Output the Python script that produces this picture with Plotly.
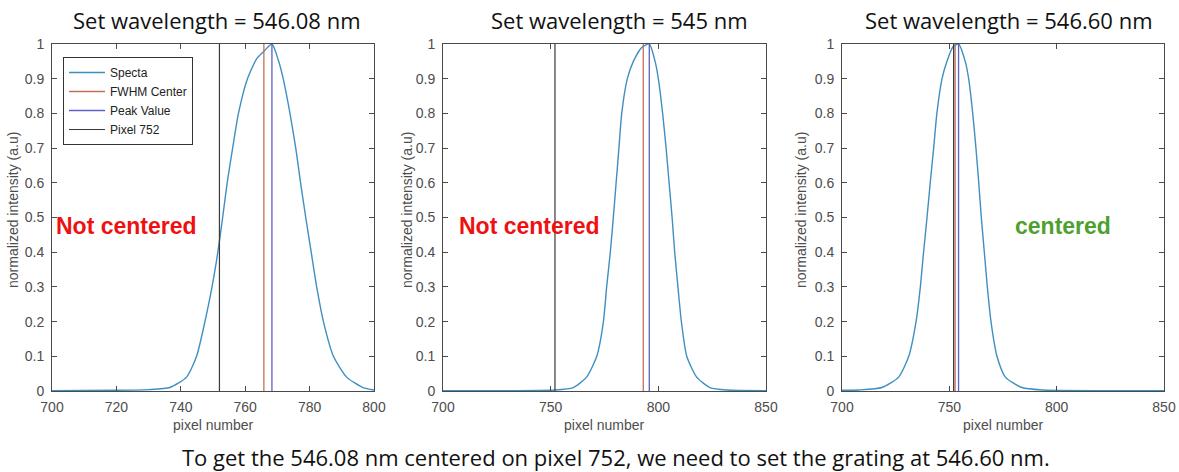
import plotly.graph_objects as go

# ---------------- data ----------------
titles = ["Set wavelength = 546.08 nm", "Set wavelength = 545 nm", "Set wavelength = 546.60 nm"]
status_texts = ["Not centered", "Not centered", "centered"]
caption = "To get the 546.08 nm centered on pixel 752, we need to set the grating at 546.60 nm."

# Panel 1 (set 546.08 nm)
p1_pixel = [700, 720, 730, 736.6, 741.8, 744.9, 747.5, 749.7, 751.5, 753, 754.4, 756.1, 757.9,
            760.7, 763.6, 765.6, 768.3, 770.3, 771.8, 773.9, 775.7, 777.2, 778.8, 780.5, 782.2,
            784.3, 787.4, 791.5, 796.6, 800]
p1_int = [0.001, 0.002, 0.004, 0.01, 0.04, 0.1, 0.2, 0.3, 0.4, 0.5, 0.6, 0.7, 0.8,
          0.9, 0.958, 0.977, 1.0, 0.953, 0.9, 0.8, 0.7, 0.6, 0.5, 0.4, 0.3,
          0.2, 0.1, 0.04, 0.01, 0.003]

# Panel 2 (set 545 nm)
p2_pixel = [700, 752, 760.5, 766.7, 771.4, 774.5, 776.0, 777.7, 779.1, 780.4, 781.7, 783.0,
            785.6, 788.4, 792.3, 795.8, 798.5, 800.0, 802.0, 803.6, 805.0, 806.4, 807.6,
            809.1, 810.7, 813.2, 817.8, 824.0, 831.8, 850]
p2_int = [0.001, 0.003, 0.01, 0.04, 0.1, 0.2, 0.3, 0.4, 0.5, 0.6, 0.7, 0.8,
          0.9, 0.95, 0.99, 1.0, 0.95, 0.9, 0.8, 0.7, 0.6, 0.5, 0.4,
          0.3, 0.2, 0.1, 0.04, 0.01, 0.003, 0.001]

# Panel 3 (set 546.60 nm)
p3_pixel = [700, 707.8, 718.6, 726.4, 731.1, 734.5, 736.5, 738.0, 739.6, 741.1, 742.7, 744.2,
            746.6, 748.9, 751.7, 754.3, 757.4, 759.0, 760.9, 762.4, 763.7, 764.9, 766.3,
            767.7, 769.4, 772.2, 776.1, 783.8, 793.2, 850]
p3_int = [0.002, 0.003, 0.01, 0.04, 0.1, 0.2, 0.3, 0.4, 0.5, 0.6, 0.7, 0.8,
          0.9, 0.95, 0.992, 1.0, 0.95, 0.9, 0.8, 0.7, 0.6, 0.5, 0.4,
          0.3, 0.2, 0.1, 0.04, 0.01, 0.003, 0.001]

fwhm_center = [765.8, 793.0, 752.7]
peak_value = [768.3, 795.8, 754.3]
target_pixel = [752, 752, 752]

x_ranges = [[700, 800], [700, 850], [700, 850]]
x_ticks = [[700, 720, 740, 760, 780, 800], [700, 750, 800, 850], [700, 750, 800, 850]]
y_ticks = [0, 0.1, 0.2, 0.3, 0.4, 0.5, 0.6, 0.7, 0.8, 0.9, 1]

series_names = ["Specta", "FWHM Center", "Peak Value", "Pixel 752"]

# ---------------- styling / layout ----------------
W, H = 1179, 472


def px(x):                   # window pixel -> paper x
    return x / W


def py(y):                   # window pixel -> paper y
    return 1 - y / H


c_spec = "#3f8fc2"
c_fwhm = "#c2705c"
c_peak = "#5f5fc4"
c_pix = "#3a3a3a"
axis_col = "#4a4a4a"
tick_font = dict(family="Liberation Sans, Arial, sans-serif", size=14, color="#4d4d4d")
title_font = dict(family="Open Sans, Lato, sans-serif", size=22, color="#111111")
label_font = dict(family="Liberation Sans, Arial, sans-serif", size=14, color="#4d4d4d")

x_domains = [[px(52), px(374)], [px(443), px(766)], [px(842), px(1164)]]
y_domain = [py(391), py(44)]

pixels = [p1_pixel, p2_pixel, p3_pixel]
ints = [p1_int, p2_int, p3_int]

fig = go.Figure()

for i in range(3):
    xa = "x" if i == 0 else f"x{i+1}"
    ya = "y" if i == 0 else f"y{i+1}"
    show = i == 0
    fig.add_trace(go.Scatter(x=pixels[i], y=ints[i], mode="lines", name=series_names[0],
                             line=dict(color=c_spec, width=1.4, shape="spline", smoothing=0.6),
                             xaxis=xa, yaxis=ya, showlegend=show))
    fig.add_trace(go.Scatter(x=[fwhm_center[i]] * 2, y=[0, 1], mode="lines", name=series_names[1],
                             line=dict(color=c_fwhm, width=1.3),
                             xaxis=xa, yaxis=ya, showlegend=show))
    fig.add_trace(go.Scatter(x=[peak_value[i]] * 2, y=[0, 1], mode="lines", name=series_names[2],
                             line=dict(color=c_peak, width=1.3),
                             xaxis=xa, yaxis=ya, showlegend=show))
    fig.add_trace(go.Scatter(x=[target_pixel[i]] * 2, y=[0, 1], mode="lines", name=series_names[3],
                             line=dict(color=c_pix, width=1.2),
                             xaxis=xa, yaxis=ya, showlegend=show))

    xkey = "xaxis" if i == 0 else f"xaxis{i+1}"
    ykey = "yaxis" if i == 0 else f"yaxis{i+1}"
    fig.layout[xkey] = dict(
        domain=x_domains[i], anchor=ya, range=x_ranges[i], tickvals=x_ticks[i],
        showgrid=False, zeroline=False, showline=True, linecolor=axis_col, linewidth=1,
        mirror="ticks", ticks="inside", ticklen=5, tickcolor=axis_col, tickfont=tick_font,
        ticklabelstandoff=3, automargin=False,
    )
    fig.layout[ykey] = dict(
        domain=y_domain, anchor=xa, range=[0, 1], tickvals=y_ticks,
        showgrid=False, zeroline=False, showline=True, linecolor=axis_col, linewidth=1,
        mirror="ticks", ticks="inside", ticklen=5, tickcolor=axis_col, tickfont=tick_font,
        ticklabelstandoff=4, automargin=False,
    )

# Axis labels (placed as annotations to mirror the reference layout)
xlabel_x = [213, 604, 1003]
ylabel_x = [13, 407, 801]
for i in range(3):
    fig.add_annotation(text="pixel number", x=px(xlabel_x[i]), y=py(425), xref="paper", yref="paper",
                       showarrow=False, xanchor="center", yanchor="middle", font=label_font)
    fig.add_annotation(text="normalized intensity (a.u)", x=px(ylabel_x[i]), y=py(210),
                       xref="paper", yref="paper", showarrow=False, xanchor="center", yanchor="middle",
                       textangle=-90, font=label_font)

# Titles above panels
title_x = [217, 619, 1009]
for i in range(3):
    fig.add_annotation(text=titles[i], x=px(title_x[i]), y=py(20), xref="paper", yref="paper",
                       showarrow=False, font=title_font, xanchor="center", yanchor="middle")

# Status labels
status_x = [126, 529, 1063]
status_col = ["#ee1111", "#ee1111", "#4ea02e"]
for i in range(3):
    fig.add_annotation(text=f"<b>{status_texts[i]}</b>", x=px(status_x[i]), y=py(226),
                       xref="paper", yref="paper", showarrow=False, xanchor="center", yanchor="middle",
                       font=dict(family="Liberation Sans, Arial, sans-serif", size=23, color=status_col[i]))

# Caption
fig.add_annotation(text=caption, x=px(616), y=py(457), xref="paper", yref="paper",
                   showarrow=False, xanchor="center", yanchor="middle", font=title_font)

fig.update_layout(
    width=W, height=H, margin=dict(l=0, r=0, t=0, b=0, autoexpand=False),
    paper_bgcolor="white", plot_bgcolor="white",
    showlegend=True,
    legend=dict(x=px(63), y=py(57), xanchor="left", yanchor="top",
                bgcolor="white", bordercolor="#333333", borderwidth=1,
                font=dict(family="Liberation Sans, Arial, sans-serif", size=12, color="#222222"),
                itemwidth=36, tracegroupgap=0),
)

# remove the default 8px page margin so the figure fills the window exactly; hide the modebar
fig.write_html("out.html", config={"displayModeBar": False},
               post_script="document.body.style.margin='0px';")
